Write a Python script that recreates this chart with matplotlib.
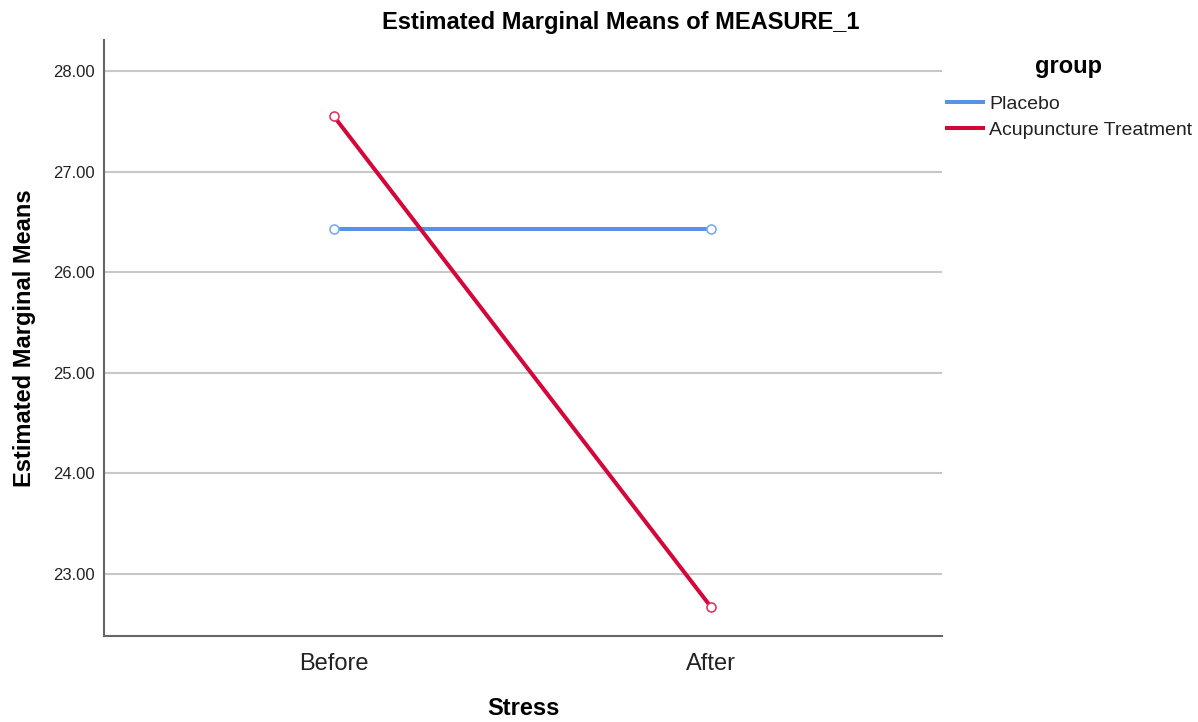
import matplotlib
matplotlib.use('Agg')
import matplotlib.pyplot as plt
from matplotlib.lines import Line2D

plt.rcParams['font.family'] = ['Liberation Sans', 'DejaVu Sans']

# data
stress = ['Before', 'After']
groups = ['Placebo', 'Acupuncture Treatment']
placebo = [26.43, 26.43]
acupuncture = [27.55, 22.67]
y_ticks = [23, 24, 25, 26, 27, 28]

colors = ['#5693E4', '#D4073A']
marker_colors = ['#7EAAEC', '#DC3A62']

fig = plt.figure(figsize=(11.98, 7.22), dpi=100)
ax = fig.add_axes([0.0868, 0.1191, 0.6995, 0.8255])

x = range(len(stress))
for vals, c, mc, lab in zip([placebo, acupuncture], colors, marker_colors, groups):
    ax.plot(x, vals, color=c, lw=2.9, zorder=3, label=lab)
    ax.plot(x, vals, ls='none', marker='o', ms=6.5, mfc='white', mec=mc, mew=1.2, zorder=4)

ax.set_xlim(-0.61, 1.613)
ax.set_ylim(22.38, 28.31)
ax.set_xticks(list(x))
ax.set_xticklabels(stress, fontsize=17, color='#222222')
ax.set_yticks(y_ticks)
ax.set_yticklabels(['%.2f' % v for v in y_ticks], fontsize=12, color='#222222')
ax.tick_params(axis='y', length=0, pad=6.5)
ax.tick_params(axis='x', length=0, pad=12)
ax.grid(axis='y', color='#c8c8c8', lw=1.5, zorder=0)

for s in ['top', 'right']:
    ax.spines[s].set_visible(False)
for s in ['left', 'bottom']:
    ax.spines[s].set_color('#666666')
    ax.spines[s].set_linewidth(1.5)

fig.text(0.518, 0.9695, 'Estimated Marginal Means of MEASURE_1', fontsize=17,
         fontweight='bold', ha='center', va='center')
ax.set_xlabel('Stress', fontsize=17, fontweight='bold', labelpad=16)
ax.set_ylabel('Estimated Marginal Means', fontsize=17, fontweight='bold', labelpad=12.5)

handles = [Line2D([0], [0], color=c, lw=2.9) for c in colors]
fig.text(0.8915, 0.908, 'group', fontsize=17, fontweight='bold', ha='center', va='center')
leg = fig.legend(handles, groups, loc='upper left', bbox_to_anchor=(0.7837, 0.879),
                 frameon=False, fontsize=14, handlelength=1.85, handletextpad=0.35,
                 labelspacing=0.45, borderaxespad=0)
for t in leg.get_texts():
    t.set_color('#222222')

fig.savefig('out.png', dpi=100)
